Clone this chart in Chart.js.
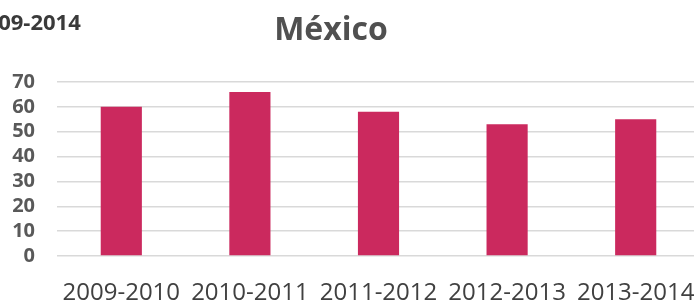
<!DOCTYPE html>
<html>
<head>
<meta charset="utf-8">
<script src="https://cdn.jsdelivr.net/npm/chart.js@4.4.1/dist/chart.umd.min.js"></script>
<style>
    html, body { margin: 0; padding: 0; background: #ffffff; overflow: hidden; }
    #wrap { position: relative; width: 694px; height: 300px; overflow: hidden; }
    #chart-box { position: absolute; left: 0; top: 0; width: 700px; height: 300px; }
    .label { position: absolute; font-family: 'Open Sans', sans-serif; font-weight: bold; white-space: nowrap; }
    #period { left: -27px; top: 6px; font-size: 22px; color: #3a3a3a; }
    #title { left: 331px; top: 6px; transform: translateX(-50%); font-size: 32px; color: #505050; }
</style>
</head>
<body>
<div id="wrap">
    <div id="chart-box"><canvas id="mexicoChart" width="700" height="300"></canvas></div>
    <div id="period" class="label">2009-2014</div>
    <div id="title" class="label">México</div>
</div>
<script>
const periods = ['2009-2010', '2010-2011', '2011-2012', '2012-2013', '2013-2014'];
const values = [60, 66, 58, 53, 55];
const yTicks = [0, 10, 20, 30, 40, 50, 60, 70];

const ctx = document.getElementById('mexicoChart').getContext('2d');

new Chart(ctx, {
    type: 'bar',
    data: {
        labels: periods,
        datasets: [{
            label: 'México',
            data: values,
            backgroundColor: '#cb295e',
            borderWidth: 0,
            barPercentage: 0.32,
            categoryPercentage: 1
        }]
    },
    options: {
        responsive: false,
        animation: false,
        layout: { padding: { top: 82, left: 0, right: 0, bottom: 0 } },
        plugins: {
            legend: { display: false },
            tooltip: { enabled: false }
        },
        scales: {
            x: {
                grid: { display: false },
                border: { display: false },
                ticks: {
                    color: '#404040',
                    padding: 15,
                    maxRotation: 0,
                    autoSkip: false,
                    font: { family: 'Open Sans', size: 24 }
                },
                afterFit: scale => {
                    scale.height = 44;
                    scale.paddingLeft = 0;
                    scale.paddingRight = 0;
                }
            },
            y: {
                min: 0,
                max: 70,
                afterBuildTicks: scale => { scale.ticks = yTicks.map(v => ({ value: v })); },
                grid: { color: '#d9d9d9', lineWidth: 1.5, drawTicks: false },
                border: { display: false },
                ticks: {
                    color: '#595959',
                    padding: 22,
                    autoSkip: false,
                    font: { family: 'Open Sans', size: 20, weight: 'bold' }
                },
                afterFit: scale => {
                    scale.width = 57;
                    scale.paddingTop = 0;
                    scale.paddingBottom = 0;
                }
            }
        }
    }
});
</script>
</body>
</html>
